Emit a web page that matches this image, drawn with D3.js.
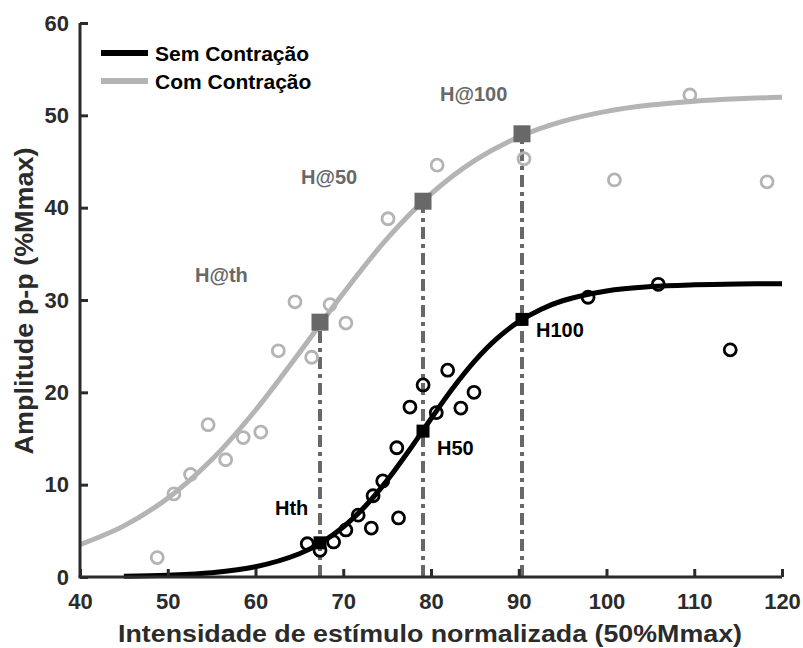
<!DOCTYPE html>
<html lang="pt">
<head>
  <meta charset="UTF-8">
  <title>Curva de recrutamento H</title>
  <script src="https://d3js.org/d3.v7.min.js"></script>
  <style>
    body { margin: 0; background: #fff; }
    text { font-family: "Liberation Sans", Arial, Helvetica, sans-serif; font-weight: bold; }
  </style>
</head>
<body>

  <script>
    /**
     * -----------------------------------------------------------------------
     *  Data
     * -----------------------------------------------------------------------
     */

    // Pontos medidos (intensidade, amplitude)
    const semX = [65.9, 67.35, 68.9, 70.3, 71.7, 73.2, 73.4, 74.5, 76.1, 76.3, 77.6, 79.1, 80.6, 81.9, 83.4, 84.9, 97.9, 105.9, 114.1];
    const semY = [3.6, 2.9, 3.8, 5.1, 6.7, 5.3, 8.8, 10.4, 14.0, 6.4, 18.4, 20.8, 17.8, 22.4, 18.3, 20.0, 30.3, 31.7, 24.6];

    const comX = [48.8, 50.7, 52.6, 54.6, 56.6, 58.6, 60.6, 62.6, 64.5, 66.4, 68.5, 70.3, 75.1, 80.7, 90.6, 100.9, 109.5, 118.3];
    const comY = [2.1, 9.0, 11.1, 16.5, 12.7, 15.1, 15.7, 24.5, 29.8, 23.8, 29.5, 27.5, 38.8, 44.6, 45.3, 43.0, 52.2, 42.8];

    // Curvas ajustadas
    const semCurveX = [45, 50, 55, 60, 65, 67.5, 70, 72.5, 75, 77.5, 80, 82.5, 85, 87.5, 90, 92.5, 95, 100, 105, 110, 115, 120];
    const semCurveY = [0.08, 0.2, 0.47, 1.11, 2.52, 3.73, 5.42, 7.66, 10.46, 13.7, 17.14, 20.47, 23.41, 25.81, 27.65, 28.98, 29.92, 30.98, 31.45, 31.65, 31.74, 31.77];

    const comCurveX = [40, 45, 50, 55, 60, 65, 70, 75, 80, 85, 90, 95, 100, 105, 110, 115, 120];
    const comCurveY = [3.51, 5.54, 8.53, 12.69, 18.06, 24.29, 30.73, 36.64, 41.49, 45.12, 47.66, 49.34, 50.43, 51.11, 51.53, 51.79, 51.95];

    // Limiar, 50% e 100%
    const markerX = [67.35, 79.09, 90.37];
    const semMarkY = [3.7, 15.8, 27.9];
    const comMarkY = [27.6, 40.7, 48.0];
    const semLabels = ["Hth", "H50", "H100"];
    const comLabels = ["H@th", "H@50", "H@100"];

    const xTicks = [40, 50, 60, 70, 80, 90, 100, 110, 120];
    const yTicks = [0, 10, 20, 30, 40, 50, 60];

    const legendNames = ["Sem Contração", "Com Contração"];


    /**
     * -----------------------------------------------------------------------
     *  Render
     * -----------------------------------------------------------------------
     */

    const W = 803, H = 648;
    const BLACK = "#000", LIGHT = "#b4b4b4", DARK = "#686868", AXIS = "#2b2b2b";

    const x = d3.scaleLinear().domain([40, 120]).range([80, 782]);
    const y = d3.scaleLinear().domain([0, 60]).range([577, 23]);

    const svg = d3.select("body").append("svg")
      .attr("width", W).attr("height", H);

    const zip = (xs, ys) => xs.map((v, i) => [v, ys[i]]);
    const line = d3.line().x(d => x(d[0])).y(d => y(d[1])).curve(d3.curveCatmullRom);

    // dash-dot guides
    svg.append("g").selectAll("line")
      .data(markerX.map((v, i) => [v, comMarkY[i]]))
      .join("line")
        .attr("x1", d => Math.round(x(d[0]))).attr("x2", d => Math.round(x(d[0])))
        .attr("y1", y(0)).attr("y2", d => y(d[1]))
        .attr("stroke", DARK).attr("stroke-width", 4)
        .attr("stroke-dasharray", "12,5,4,5");

    // fitted curves
    svg.append("path").datum(zip(comCurveX, comCurveY))
      .attr("d", line).attr("fill", "none")
      .attr("stroke", LIGHT).attr("stroke-width", 5);
    svg.append("path").datum(zip(semCurveX, semCurveY))
      .attr("d", line).attr("fill", "none")
      .attr("stroke", BLACK).attr("stroke-width", 5);

    // raw points
    svg.append("g").selectAll("circle")
      .data(zip(comX, comY))
      .join("circle")
        .attr("cx", d => x(d[0])).attr("cy", d => y(d[1])).attr("r", 6)
        .attr("fill", "none").attr("stroke", LIGHT).attr("stroke-width", 2.8);
    svg.append("g").selectAll("circle")
      .data(zip(semX, semY))
      .join("circle")
        .attr("cx", d => x(d[0])).attr("cy", d => y(d[1])).attr("r", 6)
        .attr("fill", "none").attr("stroke", BLACK).attr("stroke-width", 2.8);

    // square markers
    svg.append("g").selectAll("rect")
      .data(zip(markerX, comMarkY))
      .join("rect")
        .attr("x", d => x(d[0]) - 8.5).attr("y", d => y(d[1]) - 8.5)
        .attr("width", 17).attr("height", 17).attr("fill", DARK);
    svg.append("g").selectAll("rect")
      .data(zip(markerX, semMarkY))
      .join("rect")
        .attr("x", d => x(d[0]) - 6.5).attr("y", d => y(d[1]) - 6.5)
        .attr("width", 13).attr("height", 13).attr("fill", BLACK);

    // annotations
    const semLabelPos = [[-45, -28], [14, 24], [14, 18]];
    const comLabelPos = [[-125, -40], [-122, -17], [-82, -33]];
    svg.append("g").selectAll("text")
      .data(semLabels)
      .join("text")
        .attr("x", (d, i) => x(markerX[i]) + semLabelPos[i][0])
        .attr("y", (d, i) => y(semMarkY[i]) + semLabelPos[i][1])
        .attr("font-size", 20).attr("fill", BLACK).text(d => d);
    svg.append("g").selectAll("text")
      .data(comLabels)
      .join("text")
        .attr("x", (d, i) => x(markerX[i]) + comLabelPos[i][0])
        .attr("y", (d, i) => y(comMarkY[i]) + comLabelPos[i][1])
        .attr("font-size", 20).attr("fill", DARK).text(d => d);

    // axes (MATLAB style, ticks inside)
    const xAxis = svg.append("g").attr("transform", `translate(0,${y(0)})`)
      .call(d3.axisBottom(x).tickValues(xTicks).tickSizeInner(-8).tickSizeOuter(0).tickPadding(16));
    const yAxis = svg.append("g").attr("transform", `translate(${x(40)},0)`)
      .call(d3.axisLeft(y).tickValues(yTicks).tickSizeInner(-8).tickSizeOuter(0).tickPadding(11));

    [xAxis, yAxis].forEach(g => {
      g.select(".domain").attr("stroke", AXIS).attr("stroke-width", 3);
      g.selectAll(".tick line").attr("stroke", AXIS).attr("stroke-width", 3);
      g.selectAll(".tick text").attr("fill", AXIS).attr("font-size", 22)
        .attr("font-family", "'Liberation Sans', Arial, sans-serif").attr("font-weight", "bold");
    });
    // domain ends exactly at the plot box
    xAxis.select(".domain").attr("d", `M${x(40) - 1.5},0H${x(120)}`);
    yAxis.select(".domain").attr("d", `M0,${y(0)}V${y(60)}`);

    svg.append("text")
      .attr("x", 430).attr("y", 642)
      .attr("text-anchor", "middle").attr("font-size", 24).attr("fill", AXIS)
      .attr("textLength", 624).attr("lengthAdjust", "spacingAndGlyphs")
      .text("Intensidade de estímulo normalizada (50%Mmax)");

    svg.append("text")
      .attr("transform", "translate(33,301) rotate(-90)")
      .attr("text-anchor", "middle").attr("font-size", 25).attr("fill", AXIS)
      .attr("textLength", 307).attr("lengthAdjust", "spacingAndGlyphs")
      .text("Amplitude p-p (%Mmax)");

    // legend
    const legend = svg.append("g").selectAll("g")
      .data(legendNames)
      .join("g")
        .attr("transform", (d, i) => `translate(101,${53 + 28 * i})`);
    legend.append("line")
      .attr("x1", 0).attr("x2", 47)
      .attr("stroke", (d, i) => i ? LIGHT : BLACK).attr("stroke-width", 6);
    legend.append("text")
      .attr("x", 54).attr("y", 8).attr("font-size", 21).attr("fill", BLACK)
      .text(d => d);
  </script>

</body>
</html>
